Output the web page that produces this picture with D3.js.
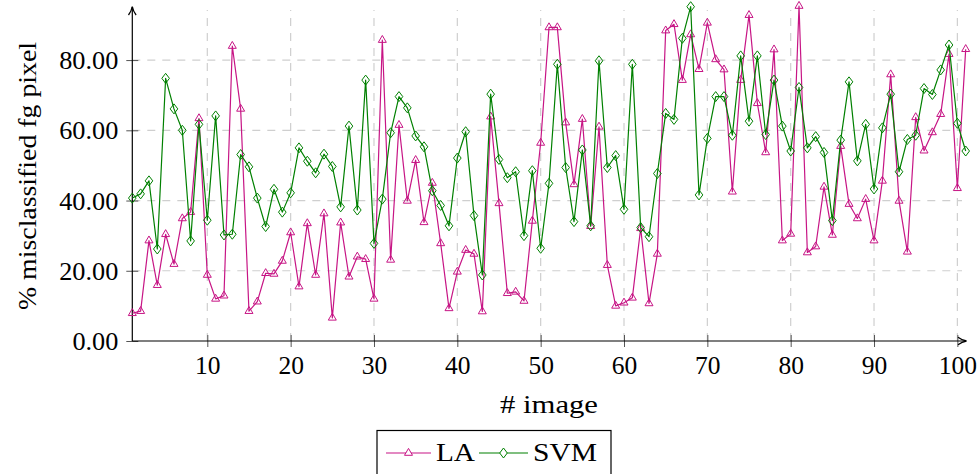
<!DOCTYPE html>
<html><head><meta charset="utf-8">
<script src="https://cdn.jsdelivr.net/npm/d3@7"></script>
<style>html,body{margin:0;padding:0;background:#fff;}svg{display:block;}</style>
</head><body>
<script>
const imageIds = d3.range(1, 102);
const seriesNames = ["LA", "SVM"];
const laValues = [7.9, 8.5, 28.6, 15.9, 30.4, 21.9, 34.9, 36.7, 63.4, 18.8,
  12.0, 12.9, 84.0, 66.1, 8.5, 11.2, 19.3, 19.1, 22.8, 30.9,
  15.5, 33.5, 18.8, 36.3, 6.6, 33.7, 18.3, 24.0, 23.3, 12.0,
  85.7, 23.1, 61.5, 39.9, 51.5, 33.8, 45.0, 27.8, 9.3, 19.7,
  25.9, 24.8, 8.4, 63.9, 39.2, 13.6, 14.0, 11.4, 34.2, 56.4,
  89.3, 89.3, 62.2, 44.6, 63.2, 32.7, 61.0, 21.6, 10.0, 10.9,
  12.3, 32.1, 10.7, 24.8, 88.4, 90.2, 74.3, 87.3, 77.4, 90.6,
  80.2, 77.3, 42.5, 74.3, 92.8, 67.7, 53.7, 83.0, 28.6, 30.5,
  95.4, 25.2, 26.9, 43.9, 30.2, 55.5, 39.0, 34.9, 40.4, 28.6,
  45.6, 75.9, 39.9, 25.4, 63.7, 54.2, 59.4, 64.6, 81.7, 43.5, 83.1];
const svmValues = [40.7, 41.9, 45.6, 26.2, 74.8, 66.1, 60.0, 28.5, 61.7, 34.4,
  64.1, 30.2, 30.4, 53.1, 49.6, 40.7, 32.6, 43.2, 36.7, 42.2,
  55.0, 51.2, 47.9, 53.2, 49.7, 38.2, 61.2, 37.3, 74.3, 27.8,
  40.4, 59.3, 69.6, 66.4, 58.4, 55.3, 42.8, 38.6, 32.8, 52.1,
  59.6, 35.7, 18.8, 70.3, 51.7, 46.5, 48.2, 30.0, 48.5, 26.4,
  44.9, 78.8, 49.4, 34.0, 54.4, 32.8, 79.8, 49.4, 52.8, 37.5,
  78.8, 32.3, 29.7, 47.7, 64.8, 63.1, 86.2, 95.2, 41.6, 57.7,
  69.6, 69.6, 58.6, 81.2, 62.6, 81.2, 58.8, 74.3, 61.2, 54.1,
  72.2, 55.0, 58.2, 53.7, 34.3, 57.2, 73.8, 51.3, 61.7, 43.3,
  60.7, 70.3, 48.2, 57.4, 58.6, 71.9, 70.2, 77.2, 84.3, 62.0, 54.1];
const xTicks = [10, 20, 30, 40, 50, 60, 70, 80, 90, 100];
const yTicks = [0, 20, 40, 60, 80];
const xLabel = "# image";
const yLabel = "% misclassified fg pixel";

const W = 980, H = 474;
const colors = {LA: "#c71585", SVM: "#008000"};
const font = "'Liberation Serif', 'Times New Roman', serif";

const svg = d3.select("body").append("svg").attr("width", W).attr("height", H);

const x = d3.scaleLinear().domain([1, 101]).range([132.3, 965.7]);
const y = d3.scaleLinear().domain([0, 95.4]).range([341, 6]);

// stretch text horizontally to mimic the wider Computer Modern glyphs
function stretch(sel, factor) {
  sel.each(function() {
    const w = this.getComputedTextLength();
    d3.select(this).attr("textLength", w * factor).attr("lengthAdjust", "spacingAndGlyphs");
  });
}

const defs = svg.append("defs");
defs.append("marker").attr("id", "arr").attr("viewBox", "0 0 10 10")
  .attr("refX", 9).attr("refY", 5).attr("markerWidth", 10).attr("markerHeight", 10)
  .attr("markerUnits", "userSpaceOnUse").attr("orient", "auto")
  .append("path").attr("d", "M1,1.2 Q5,4.2 9.5,5 Q5,5.8 1,8.8").attr("fill", "none")
  .attr("stroke", "#000").attr("stroke-width", 1.3);

// grid
const grid = svg.append("g");
grid.selectAll(".gx").data(xTicks).join("line")
  .attr("x1", d => x(d)).attr("x2", d => x(d)).attr("y1", y(0)).attr("y2", 10)
  .attr("stroke", "#cfcfcf").attr("stroke-width", 1.2).attr("stroke-dasharray", "8,7");
grid.selectAll(".gy").data(yTicks.filter(d => d > 0)).join("line")
  .attr("x1", x(1)).attr("x2", 962).attr("y1", d => y(d)).attr("y2", d => y(d))
  .attr("stroke", "#cfcfcf").attr("stroke-width", 1.2).attr("stroke-dasharray", "8,7");

// axes
const xAxis = d3.axisBottom(x).tickValues(xTicks).tickSize(0).tickFormat(d3.format("d"));
const gx = svg.append("g").attr("transform", `translate(0,${y(0)})`).call(xAxis);
gx.select(".domain").remove();
gx.selectAll("text").attr("font-family", font).attr("font-size", 25).attr("fill", "#000").attr("dy", null).attr("y", 33);
stretch(gx.selectAll("text"), 1.02);
gx.selectAll(".tick").append("line").attr("y1", -6).attr("y2", 6).attr("stroke", "#555").attr("stroke-width", 1);

const yAxis = d3.axisLeft(y).tickValues(yTicks).tickSize(0).tickFormat(d3.format(".2f"));
const gy = svg.append("g").attr("transform", `translate(${x(1)},0)`).call(yAxis);
gy.select(".domain").remove();
gy.selectAll("text").attr("font-family", font).attr("font-size", 25).attr("fill", "#000").attr("x", -14).attr("dy", "0.34em");
stretch(gy.selectAll("text"), 1.05);
gy.selectAll(".tick").append("line").attr("x1", -6).attr("x2", 6).attr("stroke", "#555").attr("stroke-width", 1);

svg.append("line").attr("x1", x(1)).attr("x2", 966).attr("y1", y(0)).attr("y2", y(0))
  .attr("stroke", "#000").attr("stroke-width", 1.2).attr("marker-end", "url(#arr)");
svg.append("line").attr("x1", x(1)).attr("x2", x(1)).attr("y1", y(0)).attr("y2", 7)
  .attr("stroke", "#000").attr("stroke-width", 1.2).attr("marker-end", "url(#arr)");

// labels
svg.append("text").attr("x", 549).attr("y", 413).attr("text-anchor", "middle")
  .attr("font-family", font).attr("font-size", 26).attr("textLength", 98)
  .attr("lengthAdjust", "spacingAndGlyphs").text(xLabel);
svg.append("text").attr("transform", "translate(36,176) rotate(-90)").attr("text-anchor", "middle")
  .attr("font-family", font).attr("font-size", 26).attr("textLength", 268)
  .attr("lengthAdjust", "spacingAndGlyphs").text(yLabel);

// series
const triPath = "M0,-4.6 L4,2.3 L-4,2.3 Z";
const diaPath = "M0,-5 L3.8,0 L0,5 L-3.8,0 Z";
const series = [
  {name: "LA", values: laValues, mark: triPath},
  {name: "SVM", values: svmValues, mark: diaPath}
];
const line = d3.line().x((d, i) => x(imageIds[i])).y(d => y(d));
series.forEach(s => {
  const g = svg.append("g");
  g.append("path").attr("d", line(s.values)).attr("fill", "none")
    .attr("stroke", colors[s.name]).attr("stroke-width", 1.2).attr("stroke-linejoin", "round");
  g.selectAll("path.m").data(s.values).join("path").attr("class", "m")
    .attr("d", s.mark).attr("transform", (d, i) => `translate(${x(imageIds[i])},${y(d)})`)
    .attr("fill", "none").attr("stroke", colors[s.name]).attr("stroke-width", 1);
});

// legend
const lg = svg.append("g");
lg.append("rect").attr("x", 377).attr("y", 430.5).attr("width", 234).attr("height", 60)
  .attr("fill", "#fff").attr("stroke", "#000").attr("stroke-width", 1.2);
const legendItems = [
  {name: seriesNames[0], mark: triPath, x0: 386, x1: 431, tx: 436, tw: 39},
  {name: seriesNames[1], mark: diaPath, x0: 479, x1: 528, tx: 533, tw: 64}
];
legendItems.forEach(it => {
  lg.append("line").attr("x1", it.x0).attr("x2", it.x1).attr("y1", 453).attr("y2", 453)
    .attr("stroke", colors[it.name]).attr("stroke-width", 1.2);
  lg.append("path").attr("d", it.mark).attr("transform", `translate(${(it.x0 + it.x1) / 2},453)`)
    .attr("fill", "#fff").attr("stroke", colors[it.name]).attr("stroke-width", 1);
  lg.append("text").attr("x", it.tx).attr("y", 461).attr("font-family", font).attr("font-size", 26)
    .attr("textLength", it.tw).attr("lengthAdjust", "spacingAndGlyphs").text(it.name);
});
</script>
</body></html>
